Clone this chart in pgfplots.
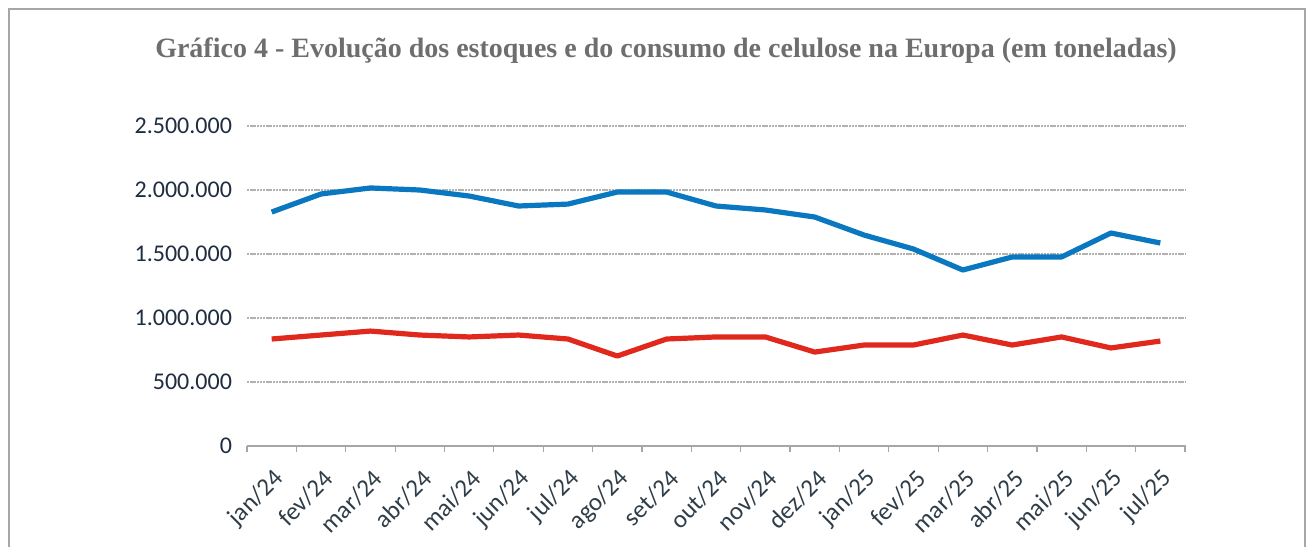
\documentclass[border=0pt]{standalone}
\usepackage{pgfplots}
\pgfplotsset{compat=1.18}
\usepackage{fontspec}
\setmainfont{Carlito}
\newfontfamily\titlefont{Liberation Serif}
\definecolor{blueline}{HTML}{0A78C0}
\definecolor{redline}{HTML}{E0281C}
\definecolor{titlegray}{HTML}{6E6E6E}
\definecolor{ylab}{HTML}{1E2D40}
\definecolor{xlab}{HTML}{2E3D48}
\begin{document}
\begin{tikzpicture}
\path[use as bounding box] (0,0) rectangle (654.5pt,-273.5pt);
\draw[gray!70, line width=1pt] (4.5pt,-273.5pt) -- (4.5pt,-4.5pt) -- (652.5pt,-4.5pt) -- (652.5pt,-273.5pt);
\node[anchor=base, font=\titlefont\bfseries\fontsize{14}{16}\selectfont, text=titlegray] at (333pt,-28.5pt) {Gráfico 4 - Evolução dos estoques e do consumo de celulose na Europa (em toneladas)};
\begin{axis}[
  at={(123.5pt,-223pt)}, anchor=south west,
  scale only axis, width=469pt, height=160pt,
  xmin=-0.5, xmax=18.5, ymin=0, ymax=2500000,
  scaled y ticks=false,
  axis x line*=bottom, axis y line*=left,
  y axis line style={draw=none},
  x axis line style={draw=gray!70, line width=0.6pt},
  ytick={0,500000,1000000,1500000,2000000,2500000},
  yticklabels={0,500.000,1.000.000,1.500.000,2.000.000,2.500.000},
  ytick style={draw=none},
  ymajorgrids, grid style={gray!60, line width=0.6pt, dash pattern=on 1.2pt off 0.4pt},
  yticklabel style={font=\fontsize{12}{14}\selectfont, text=ylab, xshift=-4pt},
  xtick={0,...,18},
  xticklabels={jan/24,fev/24,mar/24,abr/24,mai/24,jun/24,jul/24,ago/24,set/24,out/24,nov/24,dez/24,jan/25,fev/25,mar/25,abr/25,mai/25,jun/25,jul/25},
  major x tick style={draw=none},
  minor xtick={-0.5,0.5,...,18.5},
  minor x tick style={draw=gray!70, line width=0.6pt},
  minor tick length=3pt,
  xtick align=outside,
  xticklabel style={font=\fontsize{12.5}{14}\selectfont, text=xlab, rotate=45, anchor=east, xshift=-1pt, yshift=-10pt},
  clip=false,
]
\addplot[blueline, line width=2.6pt, line join=round] coordinates {
(0,1828000) (1,1969000) (2,2016000) (3,2000000) (4,1953000) (5,1875000) (6,1890000) (7,1984000) (8,1984000) (9,1875000) (10,1844000) (11,1789000) (12,1648000) (13,1539000) (14,1375000) (15,1477000) (16,1477000) (17,1664000) (18,1586000)};
\addplot[redline, line width=2.6pt, line join=round] coordinates {
(0,836000) (1,867000) (2,898000) (3,867000) (4,852000) (5,867000) (6,836000) (7,703000) (8,836000) (9,852000) (10,852000) (11,734000) (12,789000) (13,789000) (14,867000) (15,789000) (16,852000) (17,766000) (18,820000)};
\end{axis}
\end{tikzpicture}
\end{document}
